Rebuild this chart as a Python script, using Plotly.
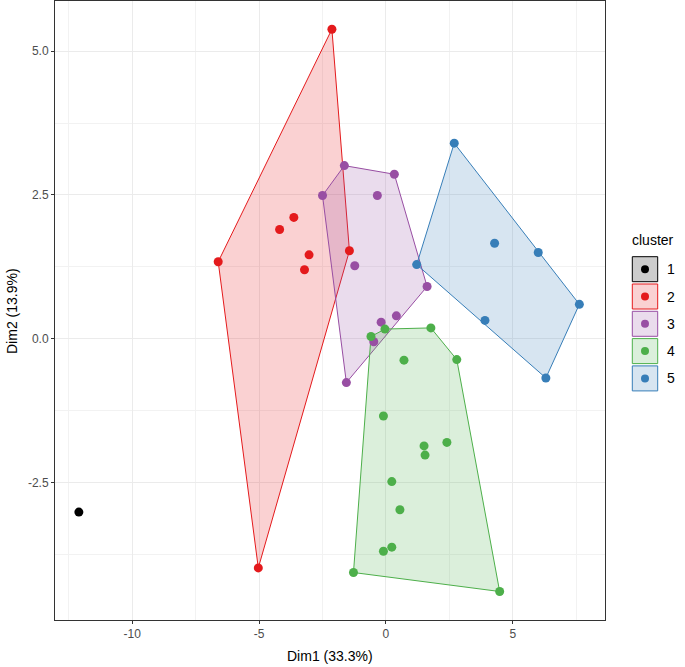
import plotly.graph_objects as go

# ---------------- data ----------------
cluster_ids = ["1", "2", "3", "4", "5"]
cluster_colors = ["#000000", "#E41A1C", "#984EA3", "#4DAF4A", "#377EB8"]

c1_x = [-12.10]
c1_y = [-3.01]
c2_x = [-2.13, -6.61, -5.03, -1.44, -3.63, -4.19, -3.03, -3.21]
c2_y = [5.38, 1.34, -3.98, 1.53, 2.11, 1.90, 1.46, 1.20]
c3_x = [-1.64, 0.33, -2.50, -0.34, -1.23, 1.62, 0.41, -0.19, -0.48, -1.56]
c3_y = [3.01, 2.86, 2.49, 2.49, 1.27, 0.91, 0.40, 0.29, -0.05, -0.76]
c4_x = [-0.59, -0.04, 1.77, 2.79, 0.71, -0.10, 1.50, 1.54, 2.40, 0.23, 0.55, 0.23, -0.10, -1.28, 4.48]
c4_y = [0.04, 0.17, 0.19, -0.36, -0.37, -1.34, -1.86, -2.02, -1.80, -2.48, -2.97, -3.62, -3.69, -4.06, -4.39]
c5_x = [2.69, 4.28, 6.00, 7.62, 3.90, 6.30, 1.21]
c5_y = [3.40, 1.66, 1.50, 0.60, 0.32, -0.68, 1.29]

x_tickvals = [-10, -5, 0, 5]
x_ticktext = ["-10", "-5", "0", "5"]
y_tickvals = [-2.5, 0.0, 2.5, 5.0]
y_ticktext = ["-2.5", "0.0", "2.5", "5.0"]

x_title = "Dim1 (33.3%)"
y_title = "Dim2 (13.9%)"
legend_title = "cluster"

clusters_x = [c1_x, c2_x, c3_x, c4_x, c5_x]
clusters_y = [c1_y, c2_y, c3_y, c4_y, c5_y]


def rgba(hexc, a):
    h = hexc.lstrip("#")
    r, g, b = int(h[0:2], 16), int(h[2:4], 16), int(h[4:6], 16)
    return f"rgba({r},{g},{b},{a})"


def convex_hull(xs, ys):
    pts = sorted(set(zip(xs, ys)))
    if len(pts) < 3:
        return pts

    def cross(o, a, b):
        return (a[0] - o[0]) * (b[1] - o[1]) - (a[1] - o[1]) * (b[0] - o[0])

    lower = []
    for p in pts:
        while len(lower) >= 2 and cross(lower[-2], lower[-1], p) <= 0:
            lower.pop()
        lower.append(p)
    upper = []
    for p in reversed(pts):
        while len(upper) >= 2 and cross(upper[-2], upper[-1], p) <= 0:
            upper.pop()
        upper.append(p)
    return lower[:-1] + upper[:-1]


fig = go.Figure()

# hulls
for cid, col, xs, ys in zip(cluster_ids, cluster_colors, clusters_x, clusters_y):
    hull = convex_hull(xs, ys)
    if len(hull) >= 3:
        hx = [p[0] for p in hull] + [hull[0][0]]
        hy = [p[1] for p in hull] + [hull[0][1]]
        fig.add_trace(go.Scatter(
            x=hx, y=hy, mode="lines", fill="toself",
            fillcolor=rgba(col, 0.2), line=dict(color=col, width=1),
            showlegend=False, hoverinfo="skip"))

# points
for cid, col, xs, ys in zip(cluster_ids, cluster_colors, clusters_x, clusters_y):
    fig.add_trace(go.Scatter(
        x=xs, y=ys, mode="markers", name=cid,
        marker=dict(color=col, size=9, line=dict(width=0)),
        showlegend=False))

# ---------------- layout ----------------
W, H = 685, 667
ML, MR, MT, MB = 55, 80, 1, 47
pw = W - ML - MR
ph = H - MT - MB


def pxx(px):
    return (px - ML) / pw


def pxy(py):
    return (H - MB - py) / ph


shapes = []
annotations = []

# manual legend (ggplot-style keys)
annotations.append(dict(
    x=pxx(630), y=pxy(240), xref="paper", yref="paper", text=legend_title,
    showarrow=False, xanchor="left", yanchor="middle",
    font=dict(size=14, color="#000000")))
key_top = 256.7
pitch = 27.3
for i, (cid, col) in enumerate(zip(cluster_ids, cluster_colors)):
    t = key_top + i * pitch
    b = t + 25
    shapes.append(dict(type="rect", xref="paper", yref="paper",
                       x0=pxx(632.3), x1=pxx(657.7), y0=pxy(b), y1=pxy(t),
                       fillcolor=rgba(col, 0.2), line=dict(color=col, width=1)))
    cy = (t + b) / 2
    cx = 645
    shapes.append(dict(type="circle", xref="paper", yref="paper",
                       x0=pxx(cx - 4), x1=pxx(cx + 4), y0=pxy(cy + 4), y1=pxy(cy - 4),
                       fillcolor=col, line=dict(color=col, width=0)))
    annotations.append(dict(
        x=pxx(665), y=pxy(cy), xref="paper", yref="paper", text=cid,
        showarrow=False, xanchor="left", yanchor="middle",
        font=dict(size=14, color="#000000")))

# axis titles
annotations.append(dict(
    x=pxx(330), y=pxy(656), xref="paper", yref="paper", text=x_title,
    showarrow=False, xanchor="center", yanchor="middle",
    font=dict(size=14, color="#000000")))
annotations.append(dict(
    x=pxx(12), y=pxy(311), xref="paper", yref="paper", text=y_title,
    showarrow=False, xanchor="center", yanchor="middle", textangle=-90,
    font=dict(size=14, color="#000000")))

axis_common = dict(
    showgrid=True, gridcolor="#EBEBEB", gridwidth=1,
    zeroline=False, showline=True, linecolor="#333333", linewidth=1,
    mirror=True, ticks="outside", ticklen=3, tickcolor="#333333", tickwidth=1,
    tickfont=dict(size=12, color="#4D4D4D", family="Liberation Sans, Arial, sans-serif"),
    automargin=False,
)

fig.update_layout(
    width=W, height=H,
    margin=dict(l=ML, r=MR, t=MT, b=MB),
    paper_bgcolor="white", plot_bgcolor="white",
    font=dict(family="Liberation Sans, Arial, sans-serif"),
    showlegend=False,
    shapes=shapes, annotations=annotations,
    xaxis=dict(range=[-13.04, 8.63], tickvals=x_tickvals, ticktext=x_ticktext,
               minor=dict(showgrid=True, gridcolor="#F2F2F2", gridwidth=0.6,
                          tickvals=[-12.5, -7.5, -2.5, 2.5, 7.5]),
               **axis_common),
    yaxis=dict(range=[-4.885, 5.87], tickvals=y_tickvals, ticktext=y_ticktext,
               minor=dict(showgrid=True, gridcolor="#F2F2F2", gridwidth=0.6,
                          tickvals=[-3.75, -1.25, 1.25, 3.75]),
               **axis_common),
)

fig.write_html("out.html", config={"displayModeBar": False},
               post_script="document.body.style.margin='0px';document.body.style.overflow='hidden';")
